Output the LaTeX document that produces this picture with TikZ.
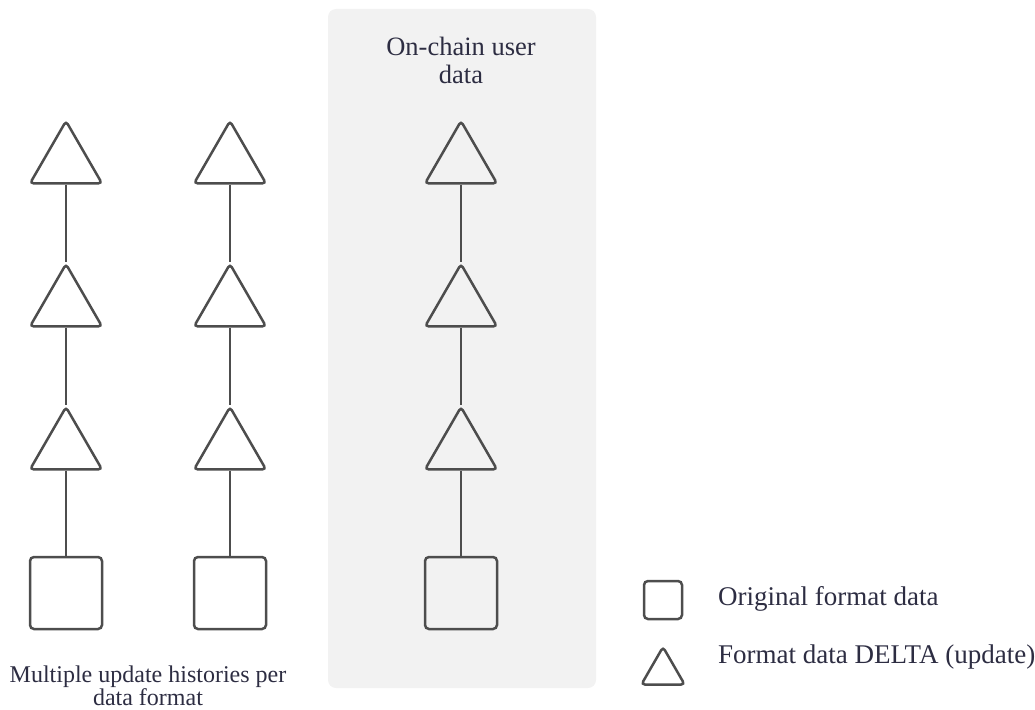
\documentclass[tikz,border=0pt]{standalone}
\usepackage{fontspec}
\setmainfont{Liberation Serif}
\usetikzlibrary{shapes.geometric}
\definecolor{edge}{RGB}{77,77,77}
\definecolor{panel}{RGB}{242,242,242}
\definecolor{txt}{RGB}{45,45,66}
\tikzset{
  delta/.style={regular polygon, regular polygon sides=3, draw=edge, line width=2.5pt,
    rounded corners=3.5pt, minimum size=83pt, inner sep=0pt},
  orig/.style={rectangle, draw=edge, line width=2.5pt, rounded corners=4pt,
    minimum size=72pt, inner sep=0pt},
  ldelta/.style={delta, minimum size=50pt},
  lorig/.style={orig, minimum size=38pt},
  link/.style={draw=edge, line width=2.5pt},
  lbl/.style={text=txt, align=center, inner sep=0pt},
}
\begin{document}
\begin{tikzpicture}[x=1pt,y=-1pt]
\useasboundingbox (0,0) rectangle (1035,709);
\fill[panel, rounded corners=8pt] (328,9) rectangle (596,688);
\node[lbl, anchor=base, font=\fontsize{26.5}{28}\selectfont] (title) at (461,83) {On-chain user\\data};
% columns
\foreach \c/\x in {a/66,b/230,c/461}{
  \node[delta] (\c1) at (\x,162.6) {};
  \node[delta] (\c2) at (\x,305.6) {};
  \node[delta] (\c3) at (\x,448.6) {};
  \node[orig] (\c0) at (\x,593) {};
  \draw[link] (\c1.south) -- (\c2.north);
  \draw[link] (\c2.south) -- (\c3.north);
  \draw[link] (\c3.south) -- (\c0.north);
}
\node[lbl, anchor=base, font=\fontsize{24}{23}\selectfont] (hist) at (148,705) {Multiple update histories per\\data format};
% legend
\node[lorig] (lo) at (663,600) {};
\node[ldelta] (ld) at (663,672) {};
\node[lbl, anchor=base west, font=\fontsize{27}{28}\selectfont] (lot) at (718,605) {Original format data};
\node[lbl, anchor=base west, font=\fontsize{27}{28}\selectfont] (ldt) at (718,663) {Format data DELTA (update)};
\end{tikzpicture}
\end{document}
